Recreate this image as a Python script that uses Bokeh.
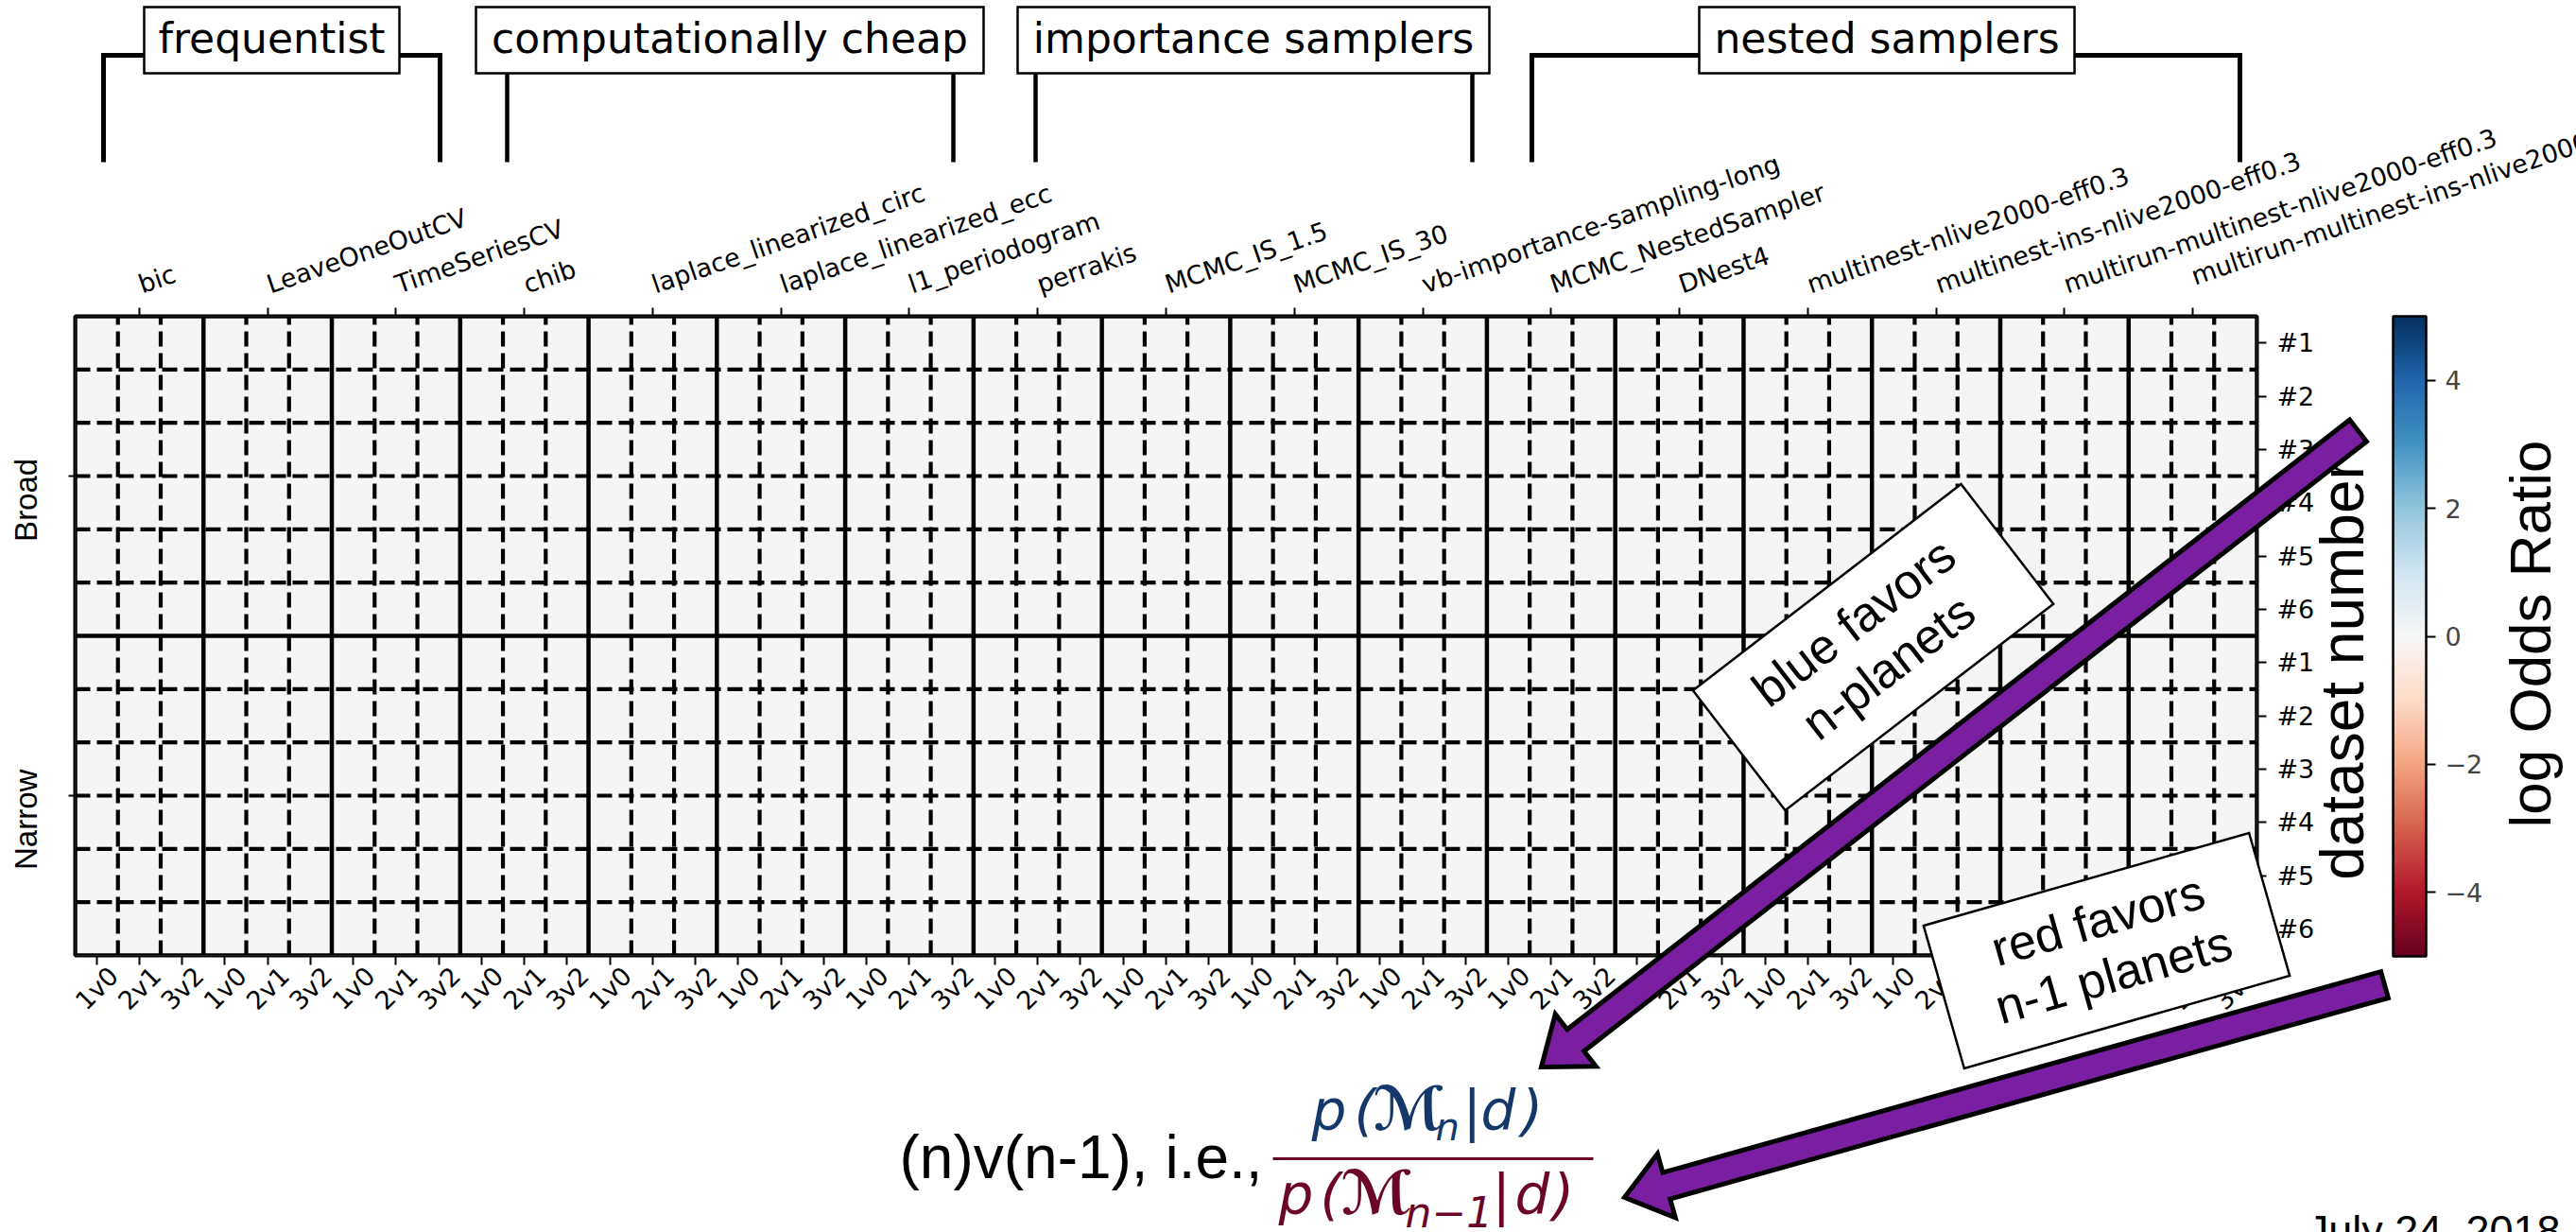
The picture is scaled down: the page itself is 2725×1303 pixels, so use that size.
import math

import numpy as np
from bokeh.core.properties import value
from bokeh.embed import file_html
from bokeh.models import (ColorBar, ColumnDataSource, CustomJSTickFormatter, FixedTicker, GridBox,
                          LinearAxis, LinearColorMapper, Range1d)
from bokeh.plotting import figure
from bokeh.resources import INLINE
from bokeh.transform import transform

# ---------------- data ----------------
methods = [
    "bic", "LeaveOneOutCV", "TimeSeriesCV", "chib",
    "laplace_linearized_circ", "laplace_linearized_ecc", "l1_periodogram", "perrakis",
    "MCMC_IS_1.5", "MCMC_IS_30", "vb-importance-sampling-long",
    "MCMC_NestedSampler", "DNest4",
    "multinest-nlive2000-eff0.3", "multinest-ins-nlive2000-eff0.3",
    "multirun-multinest-nlive2000-eff0.3", "multirun-multinest-ins-nlive2000-eff0.3",
]
comparisons = ["1v0", "2v1", "3v2"]
prior_sets = ["Broad", "Narrow"]
datasets = ["#1", "#2", "#3", "#4", "#5", "#6"]
method_families = ["frequentist", "computationally cheap", "importance samplers", "nested samplers"]
odds_ticks = [-4, -2, 0, 2, 4]
odds_low, odds_high = -5.0, 5.0
# rows: (prior set, dataset); columns: (method, comparison).
# No log odds ratio has been entered yet, so every cell is missing.
log_odds_ratio = np.full((len(prior_sets) * len(datasets), len(methods) * len(comparisons)), np.nan)

# ---------------- colours ----------------
RDBU_ANCHORS = ["#67001f", "#b2182b", "#d6604d", "#f4a582", "#fddbc7", "#f7f7f7",
                "#d1e5f0", "#92c5de", "#4393c3", "#2166ac", "#053061"]


def smooth_palette(anchors, n=256):
    rgb = np.array([[int(h[i:i + 2], 16) for i in (1, 3, 5)] for h in anchors], float)
    t = np.linspace(0, 1, n)
    s = np.linspace(0, 1, len(anchors))
    cols = np.column_stack([np.interp(t, s, rgb[:, k]) for k in range(3)])
    return ["#%02x%02x%02x" % tuple(int(round(v)) for v in c) for c in cols]


rdbu = smooth_palette(RDBU_ANCHORS)
PURPLE = "#7b1fa2"
NAVY = "#15386a"
MAROON = "#6b0626"

# ---------------- page geometry ----------------
W, H = 2725, 1303
FL, FR, FT, FB = 79, 2387, 334, 1010      # heatmap frame edges on the page

n_rows, n_cols = log_odds_ratio.shape

p = figure(width=W, height=H, output_backend="svg", toolbar_location=None,
           x_range=Range1d(-0.5, n_cols - 0.5), y_range=Range1d(n_rows - 0.5, -0.5),
           x_axis_type=None, y_axis_type=None,
           min_border_left=FL, min_border_right=W - FR, min_border_top=FT, min_border_bottom=H - FB,
           background_fill_color="#f5f5f5", border_fill_color="white",
           outline_line_color="black", outline_line_width=4)

# ---------------- heatmap cells ----------------
mapper = LinearColorMapper(palette=rdbu, low=odds_low, high=odds_high, nan_color="#f5f5f5")
rr, cc = np.meshgrid(np.arange(n_rows), np.arange(n_cols), indexing="ij")
cells = ColumnDataSource(dict(col=cc.ravel(), row=rr.ravel(), value=log_odds_ratio.ravel()))
p.rect(x="col", y="row", width=1, height=1, source=cells,
       fill_color=transform("value", mapper), line_color=None)

# cell separators: solid between methods / prior sets, dashed elsewhere
per_method = len(comparisons)
per_prior = len(datasets)
xb = np.arange(n_cols + 1) - 0.5
yb = np.arange(n_rows + 1) - 0.5
x_solid = [b for k, b in enumerate(xb) if k % per_method == 0]
x_dash = [b for k, b in enumerate(xb) if k % per_method]
y_solid = [b for k, b in enumerate(yb) if k % per_prior == 0]
y_dash = [b for k, b in enumerate(yb) if k % per_prior]
p.segment(x0=x_dash, y0=n_rows - 0.5, x1=x_dash, y1=-0.5, line_color="black", line_width=4.2, line_dash="16 7")
p.segment(x0=-0.5, y0=y_dash, x1=n_cols - 0.5, y1=y_dash, line_color="black", line_width=4.2, line_dash="16 7")
p.segment(x0=x_solid, y0=-0.5, x1=x_solid, y1=n_rows - 0.5, line_color="black", line_width=4.5)
p.segment(x0=-0.5, y0=y_solid, x1=n_cols - 0.5, y1=y_solid, line_color="black", line_width=4.5)

# ---------------- axes ----------------
TICK_FONT = "DejaVu Sans"
TICK_SIZE = "27px"
blank = CustomJSTickFormatter(code="return ''")


def style_axis(ax, tick_out, standoff, size=TICK_SIZE, font=TICK_FONT):
    ax.axis_line_color = None
    ax.major_tick_in = 0
    ax.major_tick_out = tick_out
    ax.major_tick_line_width = 2
    ax.major_tick_line_color = "black"
    ax.minor_tick_line_color = None
    ax.major_label_standoff = standoff
    ax.major_label_text_font = font
    ax.major_label_text_font_size = size
    ax.major_label_text_color = "black"


# methods along the top, one tick per method block; the last name runs off
# the page edge, so it is written on the annotation layer further down
method_centers = [per_method * i + 1 for i in range(len(methods))]
top_names = {c: m for c, m in zip(method_centers, methods)}
top_names[method_centers[-1]] = ""
top = LinearAxis(ticker=FixedTicker(ticks=method_centers), major_label_overrides=top_names,
                 major_label_orientation=math.radians(19))
style_axis(top, 9, 24)
p.add_layout(top, "above")

# comparisons along the bottom: tick marks on one axis, labels on a second one
col_centers = list(range(n_cols))
bottom_ticks = LinearAxis(ticker=FixedTicker(ticks=col_centers), formatter=blank)
style_axis(bottom_ticks, 10, 0, size="0px")
p.add_layout(bottom_ticks, "below")
shift_cols = 0.4
p.extra_x_ranges = {"cmp": Range1d(-0.5 - shift_cols, n_cols - 0.5 - shift_cols)}
bottom_labels = LinearAxis(x_range_name="cmp", ticker=FixedTicker(ticks=col_centers),
                           major_label_overrides={j: comparisons[j % per_method] for j in col_centers},
                           major_label_orientation=math.pi / 4)
style_axis(bottom_labels, 0, 7)
p.add_layout(bottom_labels, "below")

# dataset numbers on the right
row_centers = list(range(n_rows))
right = LinearAxis(ticker=FixedTicker(ticks=row_centers),
                   major_label_overrides={r: datasets[r % per_prior] for r in row_centers})
style_axis(right, 10, 11)
p.add_layout(right, "right")

# prior sets on the left: tick marks at block centres, labels on a second axis
prior_centers = [per_prior * k + (per_prior - 1) / 2 for k in range(len(prior_sets))]
left_ticks = LinearAxis(ticker=FixedTicker(ticks=prior_centers), formatter=blank)
style_axis(left_ticks, 7, 0, size="0px")
p.add_layout(left_ticks, "left")
shift_rows = 0.45
c0 = prior_centers[0] + shift_rows
p.extra_y_ranges = {"prior": Range1d((n_rows - 0.5 - c0) / per_prior, (-0.5 - c0) / per_prior)}
left_labels = LinearAxis(y_range_name="prior", ticker=FixedTicker(ticks=list(range(len(prior_sets)))),
                         major_label_overrides={k: s for k, s in enumerate(prior_sets)},
                         major_label_orientation="vertical")
style_axis(left_labels, 0, 26, size="33px", font="Liberation Sans")
p.add_layout(left_labels, "left")

# ---------------- colour bar ----------------
cb = ColorBar(color_mapper=mapper, orientation="vertical", width=35, height=677,
              location=(2531 - FL, FB - 1011), padding=0, margin=0,
              ticker=FixedTicker(ticks=odds_ticks),
              major_label_overrides={t: (f"\u2212{abs(t)}" if t < 0 else str(t)) for t in odds_ticks},
              major_tick_in=0, major_tick_out=10, major_tick_line_color="black", major_tick_line_width=2,
              minor_tick_line_color=None, bar_line_color="black", bar_line_width=2.5,
              label_standoff=10, major_label_text_font=TICK_FONT, major_label_text_font_size=TICK_SIZE,
              background_fill_color=None, border_line_color=None)
p.add_layout(cb, "center")

# ---------------- transparent layer for page annotations ----------------
# its ranges are page pixels, y pointing down; its frame is the whole page
ov = figure(frame_width=W, frame_height=H, output_backend="svg", toolbar_location=None,
            x_range=Range1d(0, W), y_range=Range1d(H, 0),
            x_axis_type=None, y_axis_type=None, min_border=0,
            background_fill_color=None, border_fill_color=None, outline_line_color=None)
for fig in (p, ov):
    try:
        fig.frame_align = False
    except AttributeError:
        pass

BASELINE_LIFT = 0.3   # em; lifts the drawn baseline onto the requested one


def text(x, y, s, size, font="Liberation Sans", color="black", align="left",
         angle=0.0, style="normal"):
    x -= BASELINE_LIFT * size * math.sin(angle)
    y -= BASELINE_LIFT * size * math.cos(angle)
    ov.text(x=[x], y=[y], text=[s], text_font=value(font), text_font_size=value(f"{size}px"),
            text_color=color, text_align=align, text_baseline="alphabetic", angle=angle,
            text_font_style=style)


def polygon(pts, fill, line="black", lw=2.5):
    ov.patch(x=[q[0] for q in pts], y=[q[1] for q in pts], fill_color=fill,
             line_color=line, line_width=lw, line_join="miter")


def polyline(pts, lw=4.5, color="black", cap="butt"):
    ov.line(x=[q[0] for q in pts], y=[q[1] for q in pts], line_color=color,
            line_width=lw, line_join="miter", line_cap=cap)


def rotated_rect(cx, cy, w, h, deg):
    a = math.radians(deg)
    ux, uy = math.cos(a), -math.sin(a)       # along the text
    dx, dy = math.sin(a), math.cos(a)        # towards the bottom of the text
    return [(cx + sw * w / 2 * ux + sh * h / 2 * dx, cy + sw * w / 2 * uy + sh * h / 2 * dy)
            for sw, sh in ((-1, -1), (1, -1), (1, 1), (-1, 1))]


def boxed_lines(cx, cy, w, h, deg, lines, size=52):
    polygon(rotated_rect(cx, cy, w, h, deg), "white", lw=2.5)
    a = math.radians(deg)
    dx, dy = math.sin(a), math.cos(a)
    for off, s in zip((-18, 42), lines):
        text(cx + off * dx, cy + off * dy, s, size, align="center", angle=a)


def fancy_arrow(tail, tip, half_shaft=14.5, head_len=46, half_head=35):
    (tx, ty), (px, py) = tail, tip
    L = math.hypot(px - tx, py - ty)
    ux, uy = (px - tx) / L, (py - ty) / L
    nx, ny = -uy, ux
    bx, by = px - head_len * ux, py - head_len * uy
    pts = [(tx + half_shaft * nx, ty + half_shaft * ny), (bx + half_shaft * nx, by + half_shaft * ny),
           (bx + half_head * nx, by + half_head * ny), (px, py),
           (bx - half_head * nx, by - half_head * ny), (bx - half_shaft * nx, by - half_shaft * ny),
           (tx - half_shaft * nx, ty - half_shaft * ny)]
    polygon(pts, PURPLE, lw=5)


# last method name, continuing past the right edge of the page
col_w = (FR - FL) / n_cols
text(FL + (method_centers[-1] + 0.5) * col_w + 2, 300, methods[-1], 27, font=TICK_FONT,
     angle=math.radians(19))

# method family brackets
polyline([(109, 171), (109, 58), (465, 58), (465, 171)], lw=5)
polyline([(536, 77), (536, 171)])
polyline([(1008, 77), (1008, 171)])
polyline([(1095, 77), (1095, 171)])
polyline([(1557, 77), (1557, 171)])
polyline([(1620, 171), (1620, 58), (2369, 58), (2369, 171)], lw=5)
for (x0, x1), name in zip([(152, 422), (503, 1040), (1076, 1575), (1797, 2194)], method_families):
    polygon([(x0, 7), (x1, 7), (x1, 77), (x0, 77)], "white", lw=2.5)
    text((x0 + x1) / 2, 53, name, 44, font="DejaVu Sans", align="center")

# axis titles drawn as rotated text
text(2497, 708, "dataset number", 64, align="center", angle=math.pi / 2)
text(2695, 670, "log Odds Ratio", 62, align="center", angle=math.pi / 2)

# explanation boxes and arrows
boxed_lines(1981, 684, 358, 160, 37.6, ["blue favors", "n-planets"])
boxed_lines(2228, 1005, 358, 157, 15.9, ["red favors", "n-1 planets"])
fancy_arrow((2494, 455), (1630, 1128))
fancy_arrow((2522, 1041), (1718, 1266))

# ratio definition
text(951, 1243, "(n)v(n-1), i.e.,", 64)
for x, s in [(1387, "p"), (1432, "("), (1547, "|"), (1566, "d"), (1609, ")")]:
    text(x, 1192, s, 58, font="DejaVu Sans", color=NAVY, style="italic")
text(1452, 1192, "\u2133", 64, font="DejaVu Sans", color=NAVY, style="bold")
text(1518, 1203, "n", 40, font="DejaVu Sans", color=NAVY, style="italic")
polyline([(1346, 1225), (1685, 1225)], lw=3, color=MAROON)
for x, s in [(1352, "p"), (1396, "("), (1578, "|"), (1602, "d"), (1642, ")")]:
    text(x, 1281, s, 58, font="DejaVu Sans", color=MAROON, style="italic")
text(1418, 1281, "\u2133", 64, font="DejaVu Sans", color=MAROON, style="bold")
text(1486, 1295, "n\u22121", 44, font="DejaVu Sans", color=MAROON, style="italic")

text(2708, 1314, "July 24, 2018", 45, align="right")

# heatmap underneath, annotation layer stacked on top of it in the same grid cell
page = GridBox(children=[(p, 0, 0), (ov, 0, 0)])
open("out.html", "w").write(file_html(page, INLINE))
